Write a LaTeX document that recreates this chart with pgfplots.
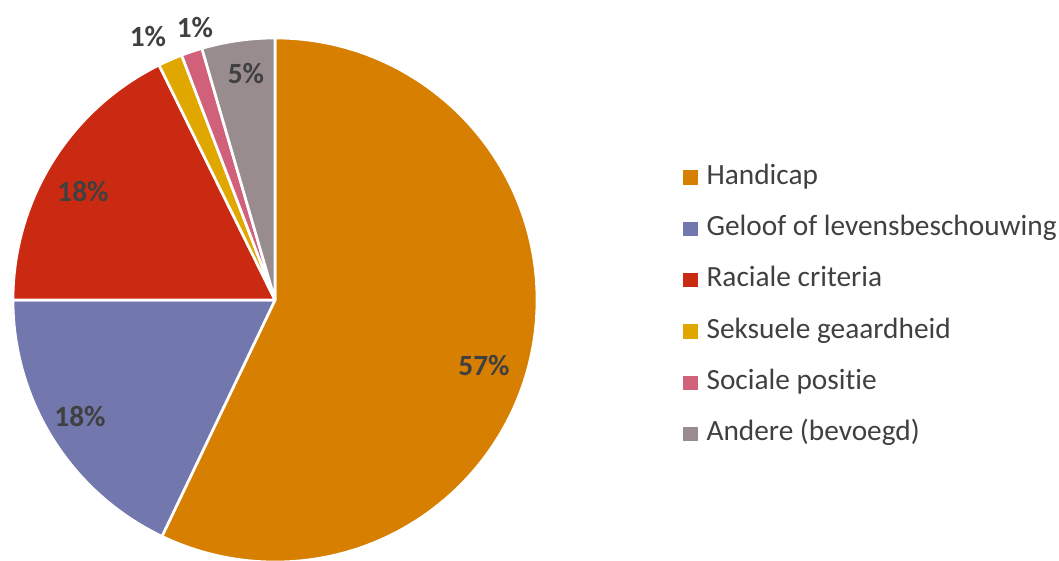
\documentclass[border=0pt]{standalone}
\usepackage{pgfplots}
\pgfplotsset{compat=1.18}
\usepackage{fontspec}
\setmainfont[Ligatures=NoCommon]{Carlito}

\definecolor{cHand}{HTML}{D77F00}
\definecolor{cGeloof}{HTML}{7277AE}
\definecolor{cRac}{HTML}{CB2A12}
\definecolor{cSeks}{HTML}{DFA700}
\definecolor{cSoc}{HTML}{D1617A}
\definecolor{cAnd}{HTML}{998C8F}
\definecolor{cLab}{HTML}{404040}

\begin{document}
\begin{tikzpicture}
\useasboundingbox (0,0) rectangle (794.25pt,420pt);
\begin{axis}[
  at={(0pt,0pt)}, anchor=south west,
  x=0.75pt, y=0.75pt,
  xmin=-275, xmax=784, ymin=-260, ymax=300,
  hide axis, clip=false,
  legend image code/.code={
    \fill[#1] (0pt,-5pt) rectangle (10pt,5pt);
    \path (17pt,0pt);
  },
  legend cell align=left,
  legend style={
    at={(0.645,0.4545)}, anchor=west,
    draw=none, fill=none, inner sep=0pt,
    row sep=19pt,
    font=\fontsize{22}{24}\selectfont,
    text=cLab,
    nodes={inner sep=0pt, text height=15pt, text depth=4.5pt},
  },
]
% slices, clockwise from the top (percent)
\xdef\astart{90}
\foreach \v/\c in {57.1/cHand,17.9/cGeloof,17.7/cRac,1.5/cSeks,1.3/cSoc,4.5/cAnd}{
  \pgfmathsetmacro\aend{\astart-3.6*\v}
  \edef\slice{\noexpand\fill[\c,draw=white,line width=2pt,line join=round]
    (axis cs:0,0) -- (axis cs:{262*cos(\astart)},{262*sin(\astart)})
    arc[start angle=\astart,end angle=\aend,radius=196.5pt] -- cycle;}
  \slice
  \xdef\astart{\aend}
}

\addlegendimage{cHand}\addlegendentry{Handicap}
\addlegendimage{cGeloof}\addlegendentry{Geloof of levensbeschouwing}
\addlegendimage{cRac}\addlegendentry{Raciale criteria}
\addlegendimage{cSeks}\addlegendentry{Seksuele geaardheid}
\addlegendimage{cSoc}\addlegendentry{Sociale positie}
\addlegendimage{cAnd}\addlegendentry{Andere (bevoegd)}

\begin{scope}[every node/.style={font=\bfseries\fontsize{22}{22}\selectfont, text=cLab}]
\node at (axis cs:209,-66) {57\%};
\node at (axis cs:-195,-116) {18\%};
\node at (axis cs:-192,108) {18\%};
\node at (axis cs:-127,263) {1\%};
\node at (axis cs:-80,272) {1\%};
\node at (axis cs:-29,226) {5\%};
\end{scope}
\end{axis}
\end{tikzpicture}
\end{document}
